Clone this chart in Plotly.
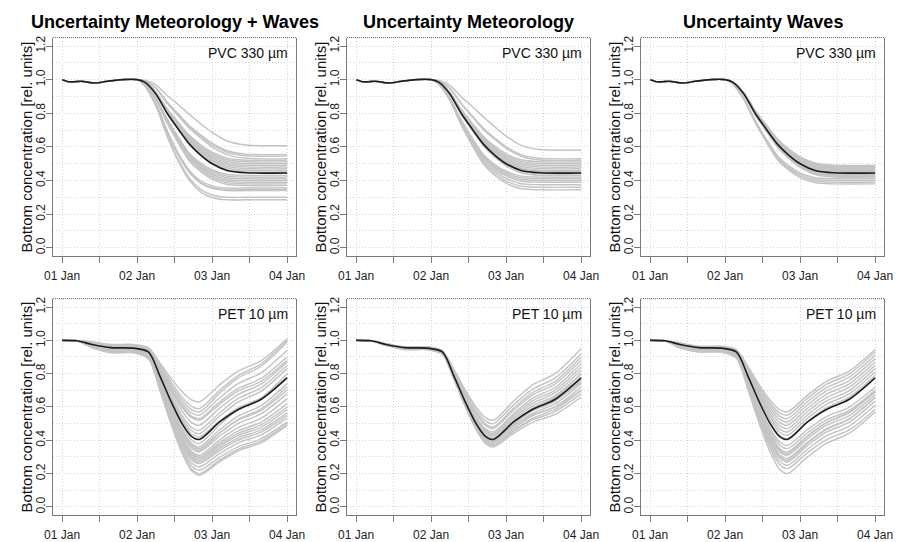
import plotly.graph_objects as go

# ---- axis ticks and labels ----
day_ticks = [0, 0.5, 1, 1.5, 2, 2.5, 3]
day_labels = ["01 Jan", "", "02 Jan", "", "03 Jan", "", "04 Jan"]
conc_ticks = [0, 0.2, 0.4, 0.6, 0.8, 1.0, 1.2]
conc_labels = ["0.0", "0.2", "0.4", "0.6", "0.8", "1.0", "1.2"]

column_titles = ["Uncertainty Meteorology + Waves", "Uncertainty Meteorology", "Uncertainty Waves"]
row_labels = ["PVC 330 µm", "PET 10 µm"]
y_title = "Bottom concentration [rel. units]"

# ---- PVC 330 µm (days since 01 Jan) ----
t_pvc = [0, 0.1, 0.25, 0.45, 0.6, 0.8, 1.0, 1.1, 1.25, 1.4, 1.55, 1.7, 1.85, 2.0, 2.2, 2.45, 3.0]
pvc_head = [1.0, 0.987, 0.99, 0.98, 0.99, 1.0, 1.0]
pvc_mean = [0.985, 0.915, 0.80, 0.705, 0.615, 0.55, 0.50, 0.46, 0.446, 0.445]

pvc_met_waves = [
    [0.996, 0.969, 0.906, 0.851, 0.792, 0.737, 0.686, 0.635, 0.611, 0.607],
    [0.991, 0.951, 0.867, 0.795, 0.724, 0.671, 0.622, 0.577, 0.557, 0.555],
    [0.991, 0.950, 0.864, 0.791, 0.718, 0.663, 0.613, 0.568, 0.547, 0.545],
    [0.991, 0.948, 0.859, 0.784, 0.709, 0.652, 0.600, 0.554, 0.532, 0.530],
    [0.987, 0.927, 0.827, 0.746, 0.667, 0.611, 0.568, 0.533, 0.521, 0.520],
    [0.987, 0.925, 0.824, 0.740, 0.660, 0.603, 0.559, 0.523, 0.511, 0.510],
    [0.987, 0.924, 0.820, 0.735, 0.653, 0.595, 0.550, 0.514, 0.501, 0.500],
    [0.986, 0.922, 0.816, 0.730, 0.646, 0.587, 0.541, 0.504, 0.491, 0.490],
    [0.986, 0.920, 0.813, 0.724, 0.639, 0.579, 0.532, 0.494, 0.481, 0.480],
    [0.986, 0.919, 0.809, 0.719, 0.632, 0.571, 0.523, 0.484, 0.471, 0.470],
    [0.985, 0.917, 0.806, 0.714, 0.625, 0.563, 0.514, 0.475, 0.461, 0.460],
    [0.985, 0.916, 0.802, 0.709, 0.618, 0.555, 0.505, 0.465, 0.451, 0.450],
    [0.977, 0.892, 0.766, 0.658, 0.561, 0.504, 0.464, 0.436, 0.430, 0.430],
    [0.977, 0.890, 0.762, 0.652, 0.553, 0.495, 0.455, 0.426, 0.420, 0.420],
    [0.976, 0.888, 0.758, 0.646, 0.546, 0.487, 0.445, 0.416, 0.410, 0.410],
    [0.976, 0.886, 0.754, 0.640, 0.538, 0.478, 0.436, 0.406, 0.400, 0.400],
    [0.976, 0.884, 0.750, 0.634, 0.530, 0.469, 0.427, 0.396, 0.390, 0.390],
    [0.975, 0.882, 0.746, 0.628, 0.523, 0.461, 0.417, 0.386, 0.380, 0.380],
    [0.975, 0.880, 0.742, 0.622, 0.515, 0.452, 0.408, 0.376, 0.370, 0.370],
    [0.968, 0.858, 0.697, 0.561, 0.458, 0.397, 0.368, 0.355, 0.355, 0.355],
    [0.967, 0.856, 0.692, 0.555, 0.450, 0.388, 0.358, 0.345, 0.345, 0.345],
    [0.967, 0.855, 0.690, 0.551, 0.446, 0.383, 0.353, 0.340, 0.340, 0.340],
    [0.965, 0.846, 0.671, 0.524, 0.412, 0.346, 0.314, 0.300, 0.300, 0.300],
    [0.964, 0.843, 0.664, 0.514, 0.399, 0.331, 0.299, 0.285, 0.285, 0.285],
]

pvc_met = [
    [0.996, 0.966, 0.899, 0.840, 0.777, 0.719, 0.664, 0.609, 0.584, 0.580],
    [0.991, 0.948, 0.859, 0.784, 0.709, 0.652, 0.600, 0.554, 0.532, 0.530],
    [0.990, 0.947, 0.856, 0.779, 0.702, 0.645, 0.592, 0.544, 0.522, 0.520],
    [0.987, 0.925, 0.824, 0.740, 0.660, 0.603, 0.559, 0.523, 0.511, 0.510],
    [0.987, 0.924, 0.820, 0.735, 0.653, 0.595, 0.550, 0.514, 0.501, 0.500],
    [0.986, 0.922, 0.816, 0.730, 0.646, 0.587, 0.541, 0.504, 0.491, 0.490],
    [0.986, 0.920, 0.813, 0.724, 0.639, 0.579, 0.532, 0.494, 0.481, 0.480],
    [0.986, 0.919, 0.809, 0.719, 0.632, 0.571, 0.523, 0.484, 0.471, 0.470],
    [0.985, 0.917, 0.806, 0.714, 0.625, 0.563, 0.514, 0.475, 0.461, 0.460],
    [0.985, 0.917, 0.804, 0.711, 0.622, 0.559, 0.510, 0.470, 0.456, 0.455],
    [0.985, 0.916, 0.802, 0.709, 0.618, 0.555, 0.505, 0.465, 0.451, 0.450],
    [0.985, 0.914, 0.798, 0.703, 0.611, 0.546, 0.496, 0.455, 0.441, 0.440],
    [0.985, 0.913, 0.795, 0.698, 0.604, 0.538, 0.487, 0.445, 0.431, 0.430],
    [0.977, 0.890, 0.762, 0.652, 0.553, 0.495, 0.455, 0.426, 0.420, 0.420],
    [0.976, 0.888, 0.758, 0.646, 0.546, 0.487, 0.445, 0.416, 0.410, 0.410],
    [0.976, 0.886, 0.754, 0.640, 0.538, 0.478, 0.436, 0.406, 0.400, 0.400],
    [0.976, 0.884, 0.750, 0.634, 0.530, 0.469, 0.427, 0.396, 0.390, 0.390],
    [0.975, 0.881, 0.744, 0.625, 0.519, 0.456, 0.413, 0.381, 0.375, 0.375],
    [0.974, 0.878, 0.738, 0.616, 0.507, 0.443, 0.398, 0.366, 0.360, 0.360],
    [0.974, 0.876, 0.731, 0.607, 0.496, 0.430, 0.384, 0.351, 0.345, 0.345],
]

pvc_waves = [
    [0.986, 0.922, 0.816, 0.730, 0.646, 0.587, 0.541, 0.504, 0.491, 0.490],
    [0.986, 0.921, 0.815, 0.727, 0.643, 0.583, 0.537, 0.499, 0.486, 0.485],
    [0.986, 0.920, 0.813, 0.724, 0.639, 0.579, 0.532, 0.494, 0.481, 0.480],
    [0.986, 0.920, 0.811, 0.722, 0.636, 0.575, 0.528, 0.489, 0.476, 0.475],
    [0.986, 0.919, 0.809, 0.719, 0.632, 0.571, 0.523, 0.484, 0.471, 0.470],
    [0.986, 0.918, 0.807, 0.716, 0.629, 0.567, 0.519, 0.479, 0.466, 0.465],
    [0.985, 0.917, 0.806, 0.714, 0.625, 0.563, 0.514, 0.475, 0.461, 0.460],
    [0.985, 0.917, 0.804, 0.711, 0.622, 0.559, 0.510, 0.470, 0.456, 0.455],
    [0.985, 0.916, 0.802, 0.709, 0.618, 0.555, 0.505, 0.465, 0.451, 0.450],
    [0.985, 0.915, 0.800, 0.706, 0.615, 0.550, 0.500, 0.460, 0.446, 0.445],
    [0.985, 0.914, 0.798, 0.703, 0.611, 0.546, 0.496, 0.455, 0.441, 0.440],
    [0.985, 0.914, 0.797, 0.701, 0.608, 0.542, 0.492, 0.450, 0.436, 0.435],
    [0.985, 0.913, 0.795, 0.698, 0.604, 0.538, 0.487, 0.445, 0.431, 0.430],
    [0.984, 0.912, 0.793, 0.695, 0.601, 0.534, 0.483, 0.441, 0.426, 0.425],
    [0.984, 0.911, 0.791, 0.693, 0.597, 0.530, 0.478, 0.436, 0.421, 0.420],
    [0.976, 0.888, 0.758, 0.646, 0.546, 0.487, 0.445, 0.416, 0.410, 0.410],
    [0.976, 0.886, 0.754, 0.640, 0.538, 0.478, 0.436, 0.406, 0.400, 0.400],
    [0.976, 0.884, 0.750, 0.634, 0.530, 0.469, 0.427, 0.396, 0.390, 0.390],
    [0.975, 0.882, 0.746, 0.628, 0.523, 0.461, 0.417, 0.386, 0.380, 0.380],
]

# ---- PET 10 µm (days since 01 Jan) ----
t_pet = [0, 0.2, 0.4, 0.65, 0.95, 1.15, 1.3, 1.45, 1.6, 1.72, 1.83, 2.1, 2.35, 2.65, 3.0]
pet_head = [1.0, 0.997]
pet_mean = [0.975, 0.956, 0.953, 0.93, 0.79, 0.635, 0.50, 0.425, 0.405, 0.51, 0.585, 0.645, 0.775]

pet_met_waves = [
    [0.99, 0.97, 0.97, 0.953, 0.868, 0.773, 0.691, 0.644, 0.63, 0.733, 0.816, 0.877, 1.01],
    [0.99, 0.975, 0.975, 0.956, 0.86, 0.752, 0.659, 0.605, 0.59, 0.70, 0.79, 0.857, 1.00],
    [0.985, 0.965, 0.965, 0.945, 0.846, 0.736, 0.641, 0.586, 0.57, 0.683, 0.776, 0.843, 0.99],
    [0.98, 0.96, 0.96, 0.94, 0.837, 0.722, 0.624, 0.566, 0.55, 0.655, 0.741, 0.804, 0.94],
    [0.98, 0.96, 0.96, 0.939, 0.831, 0.711, 0.607, 0.547, 0.53, 0.63, 0.711, 0.771, 0.90],
    [0.975, 0.955, 0.955, 0.933, 0.825, 0.703, 0.598, 0.537, 0.52, 0.617, 0.696, 0.754, 0.88],
    [0.98, 0.96, 0.96, 0.937, 0.819, 0.687, 0.575, 0.509, 0.49, 0.593, 0.676, 0.737, 0.87],
    [0.975, 0.955, 0.955, 0.93, 0.807, 0.668, 0.549, 0.48, 0.46, 0.565, 0.651, 0.714, 0.85],
    [0.975, 0.95, 0.95, 0.925, 0.797, 0.654, 0.532, 0.46, 0.44, 0.545, 0.631, 0.694, 0.83],
    [0.975, 0.95, 0.95, 0.922, 0.779, 0.619, 0.483, 0.403, 0.38, 0.493, 0.586, 0.653, 0.80],
    [0.97, 0.945, 0.945, 0.916, 0.77, 0.606, 0.465, 0.383, 0.36, 0.463, 0.546, 0.607, 0.74],
    [0.975, 0.95, 0.95, 0.92, 0.767, 0.596, 0.45, 0.364, 0.34, 0.443, 0.526, 0.587, 0.72],
    [0.965, 0.94, 0.94, 0.91, 0.757, 0.586, 0.44, 0.354, 0.33, 0.425, 0.502, 0.558, 0.68],
    [0.97, 0.945, 0.945, 0.913, 0.755, 0.577, 0.424, 0.335, 0.31, 0.402, 0.477, 0.531, 0.65],
    [0.965, 0.94, 0.94, 0.908, 0.748, 0.569, 0.415, 0.326, 0.30, 0.386, 0.457, 0.508, 0.62],
    [0.96, 0.935, 0.935, 0.903, 0.742, 0.561, 0.406, 0.316, 0.29, 0.374, 0.442, 0.492, 0.60],
    [0.965, 0.94, 0.94, 0.907, 0.742, 0.557, 0.399, 0.306, 0.28, 0.362, 0.429, 0.478, 0.585],
    [0.96, 0.935, 0.935, 0.902, 0.736, 0.549, 0.39, 0.297, 0.27, 0.35, 0.415, 0.462, 0.565],
    [0.96, 0.93, 0.93, 0.897, 0.729, 0.541, 0.381, 0.287, 0.26, 0.338, 0.402, 0.449, 0.55],
    [0.96, 0.935, 0.935, 0.90, 0.727, 0.532, 0.365, 0.268, 0.24, 0.32, 0.385, 0.432, 0.535],
    [0.96, 0.93, 0.93, 0.895, 0.717, 0.518, 0.348, 0.248, 0.22, 0.298, 0.362, 0.409, 0.51],
    [0.955, 0.925, 0.925, 0.889, 0.708, 0.505, 0.33, 0.229, 0.20, 0.281, 0.347, 0.395, 0.50],
    [0.96, 0.93, 0.93, 0.893, 0.708, 0.501, 0.323, 0.22, 0.19, 0.271, 0.337, 0.385, 0.49],
    [0.965, 0.94, 0.94, 0.91, 0.763, 0.598, 0.456, 0.374, 0.35, 0.445, 0.522, 0.578, 0.70],
    [0.975, 0.95, 0.95, 0.924, 0.791, 0.643, 0.515, 0.441, 0.42, 0.517, 0.596, 0.654, 0.78],
]

pet_met = [
    [0.98, 0.96, 0.96, 0.938, 0.828, 0.705, 0.599, 0.538, 0.52, 0.636, 0.731, 0.80, 0.95],
    [0.98, 0.96, 0.96, 0.937, 0.822, 0.693, 0.583, 0.518, 0.50, 0.613, 0.706, 0.773, 0.92],
    [0.975, 0.955, 0.955, 0.931, 0.813, 0.68, 0.566, 0.499, 0.48, 0.593, 0.686, 0.753, 0.90],
    [0.98, 0.96, 0.96, 0.936, 0.813, 0.676, 0.558, 0.49, 0.47, 0.581, 0.671, 0.737, 0.88],
    [0.975, 0.955, 0.955, 0.93, 0.804, 0.662, 0.541, 0.47, 0.45, 0.561, 0.651, 0.717, 0.86],
    [0.975, 0.955, 0.955, 0.929, 0.80, 0.656, 0.533, 0.461, 0.44, 0.548, 0.636, 0.70, 0.84],
    [0.975, 0.95, 0.95, 0.924, 0.794, 0.648, 0.524, 0.451, 0.43, 0.535, 0.621, 0.684, 0.82],
    [0.975, 0.955, 0.955, 0.928, 0.795, 0.645, 0.516, 0.441, 0.42, 0.523, 0.606, 0.667, 0.80],
    [0.975, 0.95, 0.95, 0.923, 0.788, 0.637, 0.507, 0.432, 0.41, 0.51, 0.591, 0.651, 0.78],
    [0.975, 0.95, 0.95, 0.923, 0.785, 0.631, 0.499, 0.422, 0.40, 0.497, 0.576, 0.634, 0.76],
    [0.975, 0.95, 0.95, 0.922, 0.782, 0.625, 0.491, 0.412, 0.39, 0.485, 0.562, 0.618, 0.74],
    [0.97, 0.945, 0.945, 0.917, 0.776, 0.617, 0.482, 0.403, 0.38, 0.472, 0.547, 0.601, 0.72],
    [0.975, 0.95, 0.95, 0.921, 0.776, 0.614, 0.474, 0.393, 0.37, 0.459, 0.532, 0.585, 0.70],
    [0.97, 0.945, 0.945, 0.916, 0.773, 0.612, 0.474, 0.393, 0.37, 0.454, 0.522, 0.572, 0.68],
    [0.97, 0.945, 0.945, 0.916, 0.77, 0.606, 0.465, 0.383, 0.36, 0.441, 0.507, 0.555, 0.66],
    [0.975, 0.95, 0.95, 0.922, 0.782, 0.625, 0.491, 0.412, 0.39, 0.50, 0.591, 0.657, 0.80],
    [0.975, 0.955, 0.955, 0.929, 0.798, 0.651, 0.525, 0.451, 0.43, 0.516, 0.587, 0.638, 0.75],
    [0.975, 0.95, 0.95, 0.923, 0.788, 0.637, 0.507, 0.432, 0.41, 0.488, 0.552, 0.599, 0.70],
]

pet_waves = [
    [0.985, 0.965, 0.965, 0.945, 0.847, 0.736, 0.641, 0.586, 0.57, 0.671, 0.754, 0.814, 0.945],
    [0.98, 0.96, 0.96, 0.94, 0.837, 0.722, 0.624, 0.566, 0.55, 0.653, 0.736, 0.797, 0.93],
    [0.98, 0.96, 0.96, 0.939, 0.831, 0.711, 0.607, 0.547, 0.53, 0.633, 0.716, 0.777, 0.91],
    [0.975, 0.955, 0.955, 0.933, 0.822, 0.697, 0.59, 0.528, 0.51, 0.613, 0.696, 0.757, 0.89],
    [0.975, 0.955, 0.955, 0.932, 0.816, 0.685, 0.574, 0.509, 0.49, 0.593, 0.676, 0.737, 0.87],
    [0.975, 0.955, 0.955, 0.931, 0.81, 0.674, 0.557, 0.489, 0.47, 0.573, 0.656, 0.717, 0.85],
    [0.975, 0.95, 0.95, 0.925, 0.80, 0.66, 0.54, 0.47, 0.45, 0.553, 0.636, 0.697, 0.83],
    [0.975, 0.95, 0.95, 0.924, 0.794, 0.648, 0.524, 0.451, 0.43, 0.533, 0.616, 0.677, 0.81],
    [0.975, 0.95, 0.95, 0.923, 0.788, 0.637, 0.507, 0.432, 0.41, 0.513, 0.596, 0.657, 0.79],
    [0.97, 0.945, 0.945, 0.916, 0.773, 0.612, 0.474, 0.393, 0.37, 0.465, 0.542, 0.598, 0.72],
    [0.97, 0.945, 0.945, 0.915, 0.767, 0.60, 0.457, 0.374, 0.35, 0.445, 0.522, 0.578, 0.70],
    [0.965, 0.94, 0.94, 0.91, 0.757, 0.586, 0.44, 0.354, 0.33, 0.427, 0.506, 0.564, 0.69],
    [0.965, 0.94, 0.94, 0.909, 0.751, 0.575, 0.423, 0.335, 0.31, 0.409, 0.489, 0.547, 0.675],
    [0.965, 0.94, 0.94, 0.908, 0.745, 0.563, 0.407, 0.316, 0.29, 0.389, 0.469, 0.527, 0.655],
    [0.96, 0.935, 0.935, 0.902, 0.736, 0.549, 0.39, 0.297, 0.27, 0.369, 0.449, 0.507, 0.635],
    [0.96, 0.935, 0.935, 0.901, 0.73, 0.538, 0.373, 0.277, 0.25, 0.347, 0.426, 0.484, 0.61],
    [0.955, 0.93, 0.93, 0.895, 0.72, 0.524, 0.356, 0.258, 0.23, 0.326, 0.404, 0.461, 0.585],
    [0.955, 0.93, 0.93, 0.894, 0.711, 0.507, 0.331, 0.229, 0.20, 0.30, 0.381, 0.441, 0.57],
    [0.965, 0.94, 0.94, 0.909, 0.754, 0.58, 0.432, 0.345, 0.32, 0.423, 0.506, 0.567, 0.70],
    [0.96, 0.935, 0.935, 0.902, 0.739, 0.555, 0.398, 0.306, 0.28, 0.383, 0.466, 0.527, 0.66],
]

# ---- panel layout (pixel geometry of the 900 x 542 canvas) ----
W, H = 900, 542
col_px = [(45, 293), (345, 593), (645, 893)]
row_px = [(36, 257), (300, 519)]

FONT = "Liberation Sans, Arial, Helvetica, sans-serif"
ENS_COLOR = "#c4c4c4"
MEAN_COLOR = "#1e1e1e"
AXIS_COLOR = "#7a7a7a"
GRID_COLOR = "#d4d4d4"
GRID_DASH = "1px,2px"

panels = [
    (0, 0, t_pvc, pvc_head, pvc_met_waves, pvc_mean),
    (0, 1, t_pvc, pvc_head, pvc_met, pvc_mean),
    (0, 2, t_pvc, pvc_head, pvc_waves, pvc_mean),
    (1, 0, t_pet, pet_head, pet_met_waves, pet_mean),
    (1, 1, t_pet, pet_head, pet_met, pet_mean),
    (1, 2, t_pet, pet_head, pet_waves, pet_mean),
]

fig = go.Figure()
layout = dict(
    width=W, height=H,
    margin=dict(l=0, r=0, t=0, b=0),
    paper_bgcolor="white", plot_bgcolor="white",
    showlegend=False,
    font=dict(family=FONT, color="#222"),
)
shapes, annotations = [], []

for i, (r, c, t, head, members, mean) in enumerate(panels, start=1):
    xa = "x" if i == 1 else f"x{i}"
    ya = "y" if i == 1 else f"y{i}"
    for m in members:
        fig.add_trace(go.Scatter(
            x=t, y=head + m, mode="lines", xaxis=xa, yaxis=ya,
            line=dict(color=ENS_COLOR, width=1.45, shape="spline", smoothing=0.8),
            hoverinfo="skip",
        ))
    fig.add_trace(go.Scatter(
        x=t, y=head + mean, mode="lines", xaxis=xa, yaxis=ya,
        line=dict(color=MEAN_COLOR, width=1.6, shape="spline", smoothing=0.8),
        hoverinfo="skip",
    ))

    x0, x1 = col_px[c]
    y0, y1 = row_px[r]
    xkey = "xaxis" if i == 1 else f"xaxis{i}"
    ykey = "yaxis" if i == 1 else f"yaxis{i}"
    layout[xkey] = dict(
        domain=[x0 / W, x1 / W], anchor=ya, range=[-0.12, 3.12],
        tickmode="array", tickvals=day_ticks, ticktext=day_labels,
        ticks="outside", ticklen=6, tickcolor=AXIS_COLOR, tickwidth=1,
        ticklabelstandoff=2,
        showline=True, linecolor=AXIS_COLOR, linewidth=1.2,
        showgrid=True, gridcolor=GRID_COLOR, griddash=GRID_DASH, gridwidth=1,
        zeroline=False, tickfont=dict(size=12, color="#222", family=FONT),
        fixedrange=True,
    )
    layout[ykey] = dict(
        domain=[1 - y1 / H, 1 - y0 / H], anchor=xa, range=[-0.05, 1.25],
        tickmode="array", tickvals=conc_ticks, ticktext=conc_labels,
        tickangle=-90,
        ticks="outside", ticklen=6, tickcolor=AXIS_COLOR, tickwidth=1,
        ticklabelstandoff=-4,
        showline=True, mirror=True, linecolor=AXIS_COLOR, linewidth=1.2,
        showgrid=True, gridcolor=GRID_COLOR, griddash=GRID_DASH, gridwidth=1,
        minor=dict(tick0=0, dtick=0.1, showgrid=True, gridcolor=GRID_COLOR,
                   griddash=GRID_DASH, gridwidth=1),
        zeroline=False, tickfont=dict(size=12, color="#222", family=FONT),
        fixedrange=True,
    )

    # dotted upper edge of the panel frame
    shapes.append(dict(
        type="line", xref=f"{xa} domain", yref=f"{ya} domain",
        x0=0, x1=1, y0=1, y1=1,
        line=dict(color="#555", width=1, dash="1px,1px"),
    ))

    # material label in the upper right corner
    annotations.append(dict(
        text=row_labels[r], xref=f"{xa} domain", yref=f"{ya} domain",
        x=1, y=1, xanchor="right", yanchor="top", xshift=-6, yshift=-5,
        showarrow=False, font=dict(size=14, color="#111", family=FONT),
    ))

    # y axis title
    annotations.append(dict(
        text=y_title, xref="paper", yref=f"{ya} domain",
        x=(x0 - 27) / W, y=0.5, xanchor="center", yanchor="middle",
        textangle=-90, showarrow=False,
        font=dict(size=15, color="#111", family=FONT),
    ))

    # column title on the top row
    if r == 0:
        annotations.append(dict(
            text=f"<b>{column_titles[c]}</b>", xref=f"{xa} domain", yref="paper",
            x=0.5, y=1 - 20 / H, xanchor="center", yanchor="middle",
            showarrow=False, font=dict(size=18, color="#000", family=FONT),
        ))

layout["shapes"] = shapes
layout["annotations"] = annotations
fig.update_layout(**layout)

fig.write_html("out.html")
